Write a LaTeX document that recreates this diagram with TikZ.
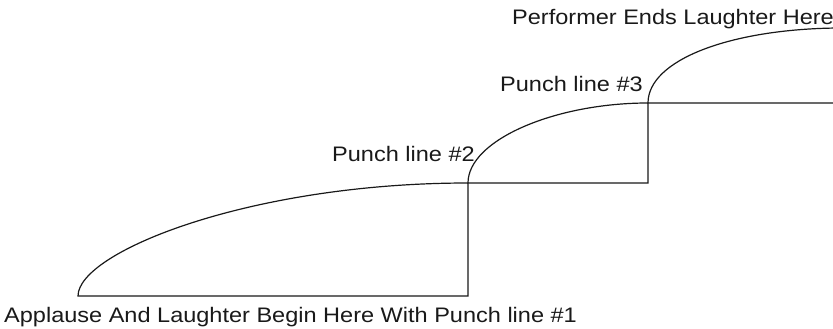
\documentclass[tikz,border=0pt]{standalone}
\usepackage{fontspec}
\setmainfont{Liberation Sans}
\begin{document}
\begin{tikzpicture}[x=1pt,y=-1pt,
  stroke/.style={line width=1.2pt,draw=black!90},
  lbl/.style={anchor=base west,inner sep=0pt,font=\fontsize{21}{24}\selectfont,xscale=1.12,text=black!90}]
\useasboundingbox (0,0) rectangle (833,329);
% key points
\coordinate (a0) at (78,296);
\coordinate (a1) at (468,296);
\coordinate (b0) at (468,183);
\coordinate (b1) at (648,183);
\coordinate (c0) at (648,103);
\coordinate (c1) at (833,103);
\coordinate (d0) at (838,28);
% step 1
\draw[stroke] (b0) .. controls (250,183) and (78,252) .. (a0) -- (a1) -- (b0);
% step 2
\draw[stroke] (c0) .. controls (555,103) and (468,140) .. (b0) -- (b1) -- (c0);
% step 3
\draw[stroke] (d0) .. controls (730,29) and (648,60) .. (c0) -- (c1);
% labels
\node[lbl] (l1) at (4,322) {Applause And Laughter Begin Here With Punch line \#1};
\node[lbl] (l2) at (332,161) {Punch line \#2};
\node[lbl] (l3) at (500,92) {Punch line \#3};
\node[lbl] (l4) at (512,25) {Performer Ends Laughter Here};
\end{tikzpicture}
\end{document}
